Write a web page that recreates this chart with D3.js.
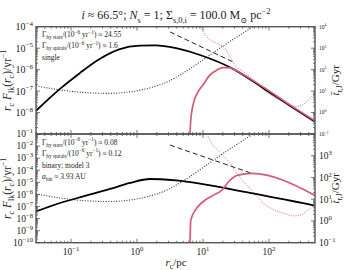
<!DOCTYPE html>
<html>
<head>
<meta charset="utf-8">
<script src="https://cdn.jsdelivr.net/npm/d3@7"></script>
<style>
  body { margin: 0; background: #fff; }
  text { font-family: "Liberation Serif", "DejaVu Serif", serif; fill: #222; }
</style>
</head>
<body>
<script>
/* global d3 */

// ---- data ----
// radii in pc
var rSingleRate = [0.0295, 0.068, 0.137, 0.275, 0.55, 1.1, 1.9, 3.9, 9.0, 28.5, 81, 208, 498];
var singleRate = [1.2e-8, 1.26e-7, 7.0e-7, 3.2e-6, 9.0e-6, 1.3e-5, 1.35e-5, 1.0e-5, 4.8e-6, 1.08e-6, 1.4e-7, 2.05e-8, 3.7e-9];

var rBinaryRate = [0.0295, 0.068, 0.163, 0.39, 0.783, 1.57, 3.9, 51.5, 498];
var binaryRate = [3.84e-8, 1.94e-7, 7.38e-7, 2.8e-6, 8.8e-6, 1.88e-5, 1.42e-5, 1.31e-6, 1.16e-7];

// dotted timescale, same in both panels (Gyr)
var rDotted = [0.0295, 0.068, 0.194, 0.39, 0.783, 1.57, 2.66, 4.49, 9.0, 18.1, 36.4, 57.3];
var tDotted = [17.5, 11.4, 8.25, 7.8, 9.2, 14.1, 24.1, 56.6, 228, 1017, 4110, 10000];

var rDashSingle = [3.17, 28.5];
var tDashSingle = [5670, 228];
var rDashBinary = [3.17, 55.4];
var tDashBinary = [3080, 153];

var rPinkSingle = [6.36, 6.5, 7.06, 8.42, 10.0, 12.8, 16.3, 20.1, 25.7, 28.5, 81.1, 208, 498];
var tPinkSingle = [0.08, 0.381, 2.28, 9.18, 19.4, 56.6, 96.8, 124, 124, 108, 15.7, 2.28, 0.41];
var rPinkBinary = [6.36, 6.52, 7.57, 10.0, 14.2, 19.2, 25.7, 33.9, 54.7, 498];
var tPinkBinary = [0.08, 1.03, 3.01, 7.65, 15.0, 25.7, 74.8, 128, 153, 15.0];

var rPinkDotSingle = [9.23, 10.1, 12.0, 16.1, 21.6, 25.7, 30.5, 40.8, 54.7, 77.6, 116, 185, 263, 352, 498];
var tPinkDotSingle = [10000, 5850, 2884, 1690, 988, 403, 166, 80.7, 39.8, 13.6, 5.55, 2.74, 1.90, 2.74, 8.5];
var rPinkDotBinary = [11.5, 13.7, 16.9, 20.8, 25.7, 30.5, 37.7, 48.1, 63.6, 84.1, 119, 169, 239, 305, 377, 498];
var tPinkDotBinary = [10000, 3427, 1803, 948, 448, 212, 89.8, 38.1, 14.5, 6.18, 3.25, 2.23, 1.71, 1.90, 2.92, 5.55];

var xTickPowers = [-1, 0, 1, 2];

// ---- layout ----
var W = 352, H = 270;
var X0 = 36, X1 = 315;
var PINK = "#d35b73";

var svg = d3.select("body").append("svg").attr("width", W).attr("height", H);

var x = d3.scaleLog().domain([0.0295, 498]).range([X0, X1]);

var panels = [
    {
        top: 26.7, bottom: 134, left: [1e-9, 1e-4],
        leftPowers: [-4, -5, -6, -7, -8], leftSize: 10,
        rightPowers: [4, 3, 2, 1, 0, -1], rightSize: 5.5,
        rate: [rSingleRate, singleRate],
        dash: [rDashSingle, tDashSingle],
        pink: [rPinkSingle, tPinkSingle],
        pinkDot: [rPinkDotSingle, tPinkDotSingle],
        notes: [
            ["\u0393", {t: "hy stars", sub: 1}, "/(10", {t: "\u22126", sup: 1}, " yr", {t: "\u22121", sup: 1}, ") \u2248 24.55"],
            ["\u0393", {t: "hy spirals", sub: 1}, "/(10", {t: "\u22126", sup: 1}, " yr", {t: "\u22121", sup: 1}, ") \u2248 1.6"],
            ["single"]
        ],
        noteY: [37, 48, 60]
    },
    {
        top: 134, bottom: 242.7, left: [1e-10, 1e-1],
        leftPowers: [-1, -2, -3, -4, -5, -6, -7, -8, -9, -10], leftSize: 9.5,
        rightPowers: [3, 2, 1, 0, -1], rightSize: 9.5,
        rate: [rBinaryRate, binaryRate],
        dash: [rDashBinary, tDashBinary],
        pink: [rPinkBinary, tPinkBinary],
        pinkDot: [rPinkDotBinary, tPinkDotBinary],
        notes: [
            ["\u0393", {t: "hy stars", sub: 1}, "/(10", {t: "\u22126", sup: 1}, " yr", {t: "\u22121", sup: 1}, ") \u2248 0.08"],
            ["\u0393", {t: "hy spirals", sub: 1}, "/(10", {t: "\u22126", sup: 1}, " yr", {t: "\u22121", sup: 1}, ") \u2248 0.12"],
            ["binary; model 3"],
            [{t: "a", it: 1}, {t: "bin", sub: 1}, " \u2248 3.93 AU"]
        ],
        noteY: [144.5, 155.5, 167.5, 178.5]
    }
];

function rich(sel, parts, size) {
    var cur = 0;
    parts.forEach(function (p) {
        if (typeof p === "string") p = {t: p};
        var off = p.sub ? size * 0.3 : p.sup ? -size * 0.42 : 0;
        var ts = sel.append("tspan").attr("dy", off - cur).text(p.t);
        if (p.sub || p.sup) ts.attr("font-size", size * 0.7);
        if (p.it) ts.attr("font-style", "italic");
        cur = off;
    });
}

function powLabel(sel, px, py, n, size, anchor) {
    var t = sel.append("text").attr("x", px).attr("y", py)
        .attr("font-size", size).attr("text-anchor", anchor);
    rich(t, ["10", {t: n < 0 ? "\u2212" + (-n) : String(n), sup: 1}], size);
}

function minorTicks(lo, hi) {
    var out = [];
    for (var n = Math.floor(Math.log10(lo)); n <= Math.ceil(Math.log10(hi)); n++) {
        for (var k = 1; k < 10; k++) {
            var v = k * Math.pow(10, n);
            if (v >= lo * 0.999 && v <= hi * 1.001) out.push({v: v, major: k === 1});
        }
    }
    return out;
}

function zip(a, b) {
    return a.map(function (d, i) { return [d, b[i]]; });
}

panels.forEach(function (p, pi) {
    var yL = d3.scaleLog().domain(p.left).range([p.bottom, p.top]);
    var yR = d3.scaleLog().domain([0.1, 1e4]).range([p.bottom, p.top]);

    var clipId = "clip" + pi;
    svg.append("clipPath").attr("id", clipId).append("rect")
        .attr("x", X0).attr("y", p.top).attr("width", X1 - X0).attr("height", p.bottom - p.top);

    var g = svg.append("g").attr("clip-path", "url(#" + clipId + ")");

    var lineL = d3.line().x(function (d) { return x(d[0]); }).y(function (d) { return yL(d[1]); })
        .curve(d3.curveMonotoneX);
    var lineR = d3.line().x(function (d) { return x(d[0]); }).y(function (d) { return yR(d[1]); })
        .curve(d3.curveMonotoneX);

    g.append("path").attr("d", lineR(zip(rDotted, tDotted)))
        .attr("fill", "none").attr("stroke", "#333").attr("stroke-width", 1.1)
        .attr("stroke-dasharray", "1,1.6");
    g.append("path").attr("d", lineR(zip(p.pinkDot[0], p.pinkDot[1])))
        .attr("fill", "none").attr("stroke", PINK).attr("stroke-width", 0.9)
        .attr("stroke-dasharray", "1,1.4");
    g.append("path").attr("d", lineR(zip(p.dash[0], p.dash[1])))
        .attr("fill", "none").attr("stroke", "#222").attr("stroke-width", 1)
        .attr("stroke-dasharray", "5,3");
    g.append("path").attr("d", lineL(zip(p.rate[0], p.rate[1])))
        .attr("fill", "none").attr("stroke", "#000").attr("stroke-width", 1.8);
    g.append("path").attr("d", lineR(zip(p.pink[0], p.pink[1])))
        .attr("fill", "none").attr("stroke", PINK).attr("stroke-width", 1.7);

    // frame
    svg.append("rect").attr("x", X0).attr("y", p.top).attr("width", X1 - X0).attr("height", p.bottom - p.top)
        .attr("fill", "none").attr("stroke", "#555").attr("stroke-width", 1.4);

    var ticks = svg.append("g").attr("stroke", "#555").attr("stroke-width", 0.8);
    minorTicks(0.0295, 498).forEach(function (t) {
        var len = t.major ? 4 : 2;
        var xx = x(t.v);
        ticks.append("line").attr("x1", xx).attr("x2", xx).attr("y1", p.bottom).attr("y2", p.bottom - len);
        ticks.append("line").attr("x1", xx).attr("x2", xx).attr("y1", p.top).attr("y2", p.top + len);
    });
    minorTicks(p.left[0], p.left[1]).forEach(function (t) {
        var len = t.major ? 4 : 2;
        var yy = yL(t.v);
        ticks.append("line").attr("x1", X0).attr("x2", X0 + len).attr("y1", yy).attr("y2", yy);
    });
    minorTicks(0.1, 1e4).forEach(function (t) {
        var len = t.major ? 4 : 2;
        var yy = yR(t.v);
        ticks.append("line").attr("x1", X1).attr("x2", X1 - len).attr("y1", yy).attr("y2", yy);
    });

    p.leftPowers.forEach(function (n) {
        powLabel(svg, 33, yL(Math.pow(10, n)) + p.leftSize * 0.35, n, p.leftSize, "end");
    });
    p.rightPowers.forEach(function (n) {
        powLabel(svg, 319, yR(Math.pow(10, n)) + p.rightSize * 0.35, n, p.rightSize, "start");
    });

    p.notes.forEach(function (parts, i) {
        var t = svg.append("text").attr("x", 42).attr("y", p.noteY[i]).attr("font-size", 7.5);
        rich(t, parts, 7.5);
    });

    var cy = (p.top + p.bottom) / 2;
    var yl = svg.append("text").attr("font-size", 11.5).attr("text-anchor", "middle")
        .attr("transform", "translate(11," + cy + ") rotate(-90)");
    rich(yl, [{t: "r", it: 1}, {t: "c", sub: 1}, " ", {t: "F", it: 1}, {t: "lk", sub: 1}, "(", {t: "r", it: 1}, {t: "c", sub: 1}, ")/yr", {t: "\u22121", sup: 1}], 11.5);

    var yr = svg.append("text").attr("font-size", 11).attr("text-anchor", "middle")
        .attr("transform", "translate(339," + cy + ") rotate(-90)");
    rich(yr, [{t: "t\u0304", it: 1}, {t: "r,J", sub: 1}, "/Gyr"], 11);
});

xTickPowers.forEach(function (n) {
    var t = svg.append("text").attr("x", x(Math.pow(10, n))).attr("y", 255)
        .attr("font-size", 9.5).attr("text-anchor", "middle");
    rich(t, ["10", {t: n < 0 ? "\u2212" + (-n) : String(n), sup: 1}], 9.5);
});

var xl = svg.append("text").attr("x", 176).attr("y", 266).attr("font-size", 11).attr("text-anchor", "middle");
rich(xl, [{t: "r", it: 1}, {t: "c", sub: 1}, "/pc"], 11);

var title = svg.append("text").attr("x", 176).attr("y", 19).attr("font-size", 12).attr("text-anchor", "middle");
rich(title, [{t: "i", it: 1}, " \u2248 66.5\u00b0; ", {t: "N", it: 1}, {t: "s", sub: 1}, " = 1; \u03a3", {t: "s,0,i", sub: 1},
    " = 100.0 M", {t: "\u2299", sub: 1}, " pc", {t: "\u22122", sup: 1}], 12);
</script>
</body>
</html>
